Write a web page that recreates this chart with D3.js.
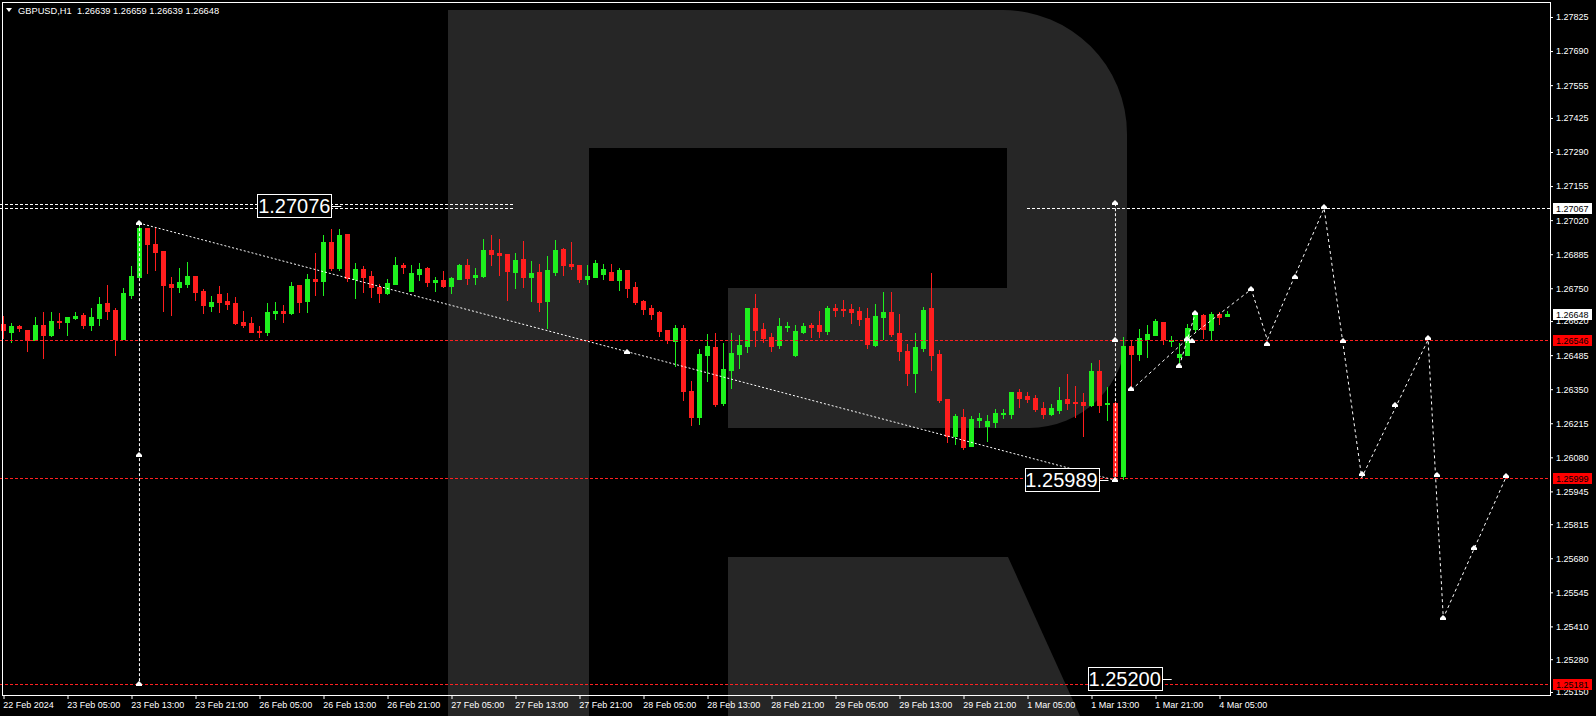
<!DOCTYPE html>
<html><head><meta charset="utf-8">
<script src="https://cdn.jsdelivr.net/npm/d3@7"></script>
<style>html,body{margin:0;padding:0;background:#000;overflow:hidden}text{white-space:pre}</style>
</head><body>
<svg id="c" width="1596" height="716"></svg>
<script>
// ---- data (GBPUSD H1, bars from 22 Feb 2024 21:00) ----
const open  = [1.26609,1.26577,1.26601,1.26585,1.26546,1.26605,1.26565,1.26621,1.26617,1.26633,1.26645,1.26605,1.26633,1.26692,1.26664,1.26550,1.26724,1.26795,1.26989,1.26927,1.26898,1.26767,1.26755,1.26767,1.26799,1.26740,1.26680,1.26728,1.26700,1.26692,1.26617,1.26613,1.26581,1.26577,1.26652,1.26660,1.26652,1.26763,1.26700,1.26787,1.26779,1.26934,1.26831,1.26965,1.26787,1.26827,1.26799,1.26755,1.26732,1.26767,1.26842,1.26739,1.26807,1.26830,1.26775,1.26783,1.26759,1.26787,1.26842,1.26795,1.26799,1.26902,1.26890,1.26886,1.26815,1.26866,1.26795,1.26815,1.26700,1.26815,1.26906,1.26846,1.26842,1.26787,1.26795,1.26807,1.26815,1.26783,1.26822,1.26755,1.26700,1.26672,1.26656,1.26585,1.26541,1.26593,1.26343,1.26240,1.26486,1.26518,1.26296,1.26426,1.26490,1.26521,1.26672,1.26589,1.26557,1.26525,1.26597,1.26486,1.26577,1.26605,1.26605,1.26581,1.26672,1.26668,1.26668,1.26660,1.26632,1.26525,1.26636,1.26656,1.26573,1.26502,1.26415,1.26513,1.26672,1.26490,1.26312,1.26165,1.26240,1.26125,1.26228,1.26205,1.26220,1.26252,1.26252,1.26339,1.26323,1.26315,1.26276,1.26252,1.26268,1.26312,1.26300,1.26300,1.26288,1.26422,1.26292,1.26296,1.26005,1.26521,1.26490,1.26549,1.26565,1.26616,1.26541,1.26478,1.26486,1.26589,1.26644,1.26585,1.26648,1.26639];
const high  = [1.26641,1.26612,1.26605,1.26585,1.26637,1.26656,1.26656,1.26652,1.26637,1.26656,1.26652,1.26672,1.26716,1.26763,1.26672,1.26752,1.26839,1.27008,1.26989,1.26993,1.26898,1.26795,1.26831,1.26854,1.26799,1.26748,1.26720,1.26759,1.26732,1.26716,1.26660,1.26637,1.26601,1.26692,1.26696,1.26684,1.26775,1.26763,1.26807,1.26890,1.26961,1.26985,1.26985,1.26965,1.26851,1.26839,1.26819,1.26767,1.26787,1.26874,1.26849,1.26842,1.26850,1.26834,1.26795,1.26818,1.26795,1.26846,1.26866,1.26830,1.26945,1.26961,1.26945,1.26886,1.26890,1.26937,1.26858,1.26846,1.26878,1.26941,1.26910,1.26933,1.26842,1.26842,1.26862,1.26846,1.26846,1.26830,1.26822,1.26775,1.26704,1.26684,1.26660,1.26585,1.26605,1.26605,1.26383,1.26510,1.26569,1.26573,1.26533,1.26573,1.26565,1.26672,1.26727,1.26613,1.26573,1.26632,1.26617,1.26605,1.26613,1.26613,1.26660,1.26680,1.26688,1.26704,1.26688,1.26676,1.26672,1.26688,1.26735,1.26735,1.26648,1.26529,1.26573,1.26676,1.26811,1.26506,1.26312,1.26252,1.26272,1.26244,1.26256,1.26248,1.26272,1.26272,1.26339,1.26351,1.26339,1.26327,1.26300,1.26292,1.26359,1.26411,1.26363,1.26335,1.26454,1.26466,1.26359,1.26300,1.26557,1.26545,1.26589,1.26604,1.26628,1.26616,1.26561,1.26533,1.26608,1.26660,1.26648,1.26656,1.26656,1.26659];
const low   = [1.26551,1.26539,1.26579,1.26503,1.26546,1.26472,1.26561,1.26593,1.26565,1.26629,1.26593,1.26585,1.26605,1.26629,1.26484,1.26550,1.26712,1.26795,1.26811,1.26823,1.26660,1.26645,1.26736,1.26755,1.26704,1.26652,1.26660,1.26656,1.26668,1.26609,1.26597,1.26577,1.26557,1.26565,1.26629,1.26617,1.26649,1.26656,1.26656,1.26724,1.26724,1.26823,1.26823,1.26779,1.26712,1.26736,1.26716,1.26696,1.26728,1.26767,1.26812,1.26739,1.26783,1.26759,1.26739,1.26755,1.26731,1.26787,1.26767,1.26767,1.26795,1.26842,1.26803,1.26704,1.26751,1.26755,1.26700,1.26660,1.26593,1.26803,1.26803,1.26826,1.26775,1.26767,1.26795,1.26787,1.26783,1.26743,1.26716,1.26688,1.26648,1.26628,1.26561,1.26533,1.26442,1.26308,1.26209,1.26213,1.26383,1.26284,1.26288,1.26355,1.26434,1.26498,1.26521,1.26537,1.26502,1.26514,1.26581,1.26482,1.26573,1.26557,1.26557,1.26569,1.26640,1.26640,1.26613,1.26605,1.26513,1.26521,1.26549,1.26561,1.26466,1.26367,1.26339,1.26502,1.26426,1.26300,1.26141,1.26133,1.26114,1.26125,1.26201,1.26145,1.26201,1.26236,1.26236,1.26280,1.26300,1.26264,1.26236,1.26248,1.26256,1.26272,1.26240,1.26165,1.26284,1.26260,1.26228,1.25989,1.25995,1.26351,1.26466,1.26478,1.26565,1.26529,1.26521,1.26450,1.26486,1.26581,1.26553,1.26549,1.26608,1.26639];
const close = [1.26583,1.26601,1.26593,1.26544,1.26605,1.26565,1.26621,1.26617,1.26637,1.26642,1.26605,1.26637,1.26688,1.26660,1.26550,1.26732,1.26799,1.26990,1.26927,1.26894,1.26763,1.26755,1.26775,1.26799,1.26736,1.26684,1.26696,1.26696,1.26688,1.26612,1.26605,1.26577,1.26577,1.26656,1.26660,1.26652,1.26759,1.26696,1.26787,1.26779,1.26934,1.26831,1.26961,1.26791,1.26827,1.26795,1.26755,1.26732,1.26771,1.26843,1.26834,1.26812,1.26826,1.26775,1.26783,1.26759,1.26791,1.26842,1.26791,1.26803,1.26902,1.26886,1.26882,1.26818,1.26862,1.26795,1.26811,1.26696,1.26822,1.26902,1.26842,1.26838,1.26787,1.26799,1.26850,1.26826,1.26783,1.26822,1.26751,1.26696,1.26668,1.26648,1.26581,1.26545,1.26593,1.26343,1.26240,1.26490,1.26521,1.26292,1.26430,1.26494,1.26525,1.26672,1.26585,1.26553,1.26521,1.26601,1.26601,1.26581,1.26601,1.26597,1.26581,1.26672,1.26664,1.26664,1.26656,1.26628,1.26529,1.26640,1.26656,1.26569,1.26502,1.26415,1.26517,1.26664,1.26486,1.26308,1.26165,1.26244,1.26121,1.26232,1.26236,1.26224,1.26256,1.26256,1.26339,1.26315,1.26312,1.26272,1.26252,1.26276,1.26308,1.26296,1.26296,1.26288,1.26422,1.26288,1.26296,1.26005,1.26521,1.26490,1.26553,1.26569,1.26620,1.26549,1.26545,1.26490,1.26593,1.26644,1.26589,1.26648,1.26636,1.26648];

const timeLabels = ["22 Feb 2024","23 Feb 05:00","23 Feb 13:00","23 Feb 21:00","26 Feb 05:00","26 Feb 13:00","26 Feb 21:00","27 Feb 05:00","27 Feb 13:00","27 Feb 21:00","28 Feb 05:00","28 Feb 13:00","28 Feb 21:00","29 Feb 05:00","29 Feb 13:00","29 Feb 21:00","1 Mar 05:00","1 Mar 13:00","1 Mar 21:00","4 Mar 05:00"];
const timeLabelBars = timeLabels.map((d,k)=>k*8);
const priceTicks = [1.27825,1.27690,1.27555,1.27425,1.27290,1.27155,1.27020,1.26885,1.26750,1.26620,1.26485,1.26350,1.26215,1.26080,1.25945,1.25815,1.25680,1.25545,1.25410,1.25280,1.25150];

const symbolTitle = "GBPUSD,H1  1.26639 1.26659 1.26639 1.26648";
const redLevels = [1.26546, 1.25999, 1.25181];
const whiteLevelLeft = [1.27082, 1.27067];
const whiteLevelRight = 1.27067;

const trendBars  = [17, 139];
const trendPrice = [1.27008, 1.25989];
const vline1Price = [1.27008, 1.25181];
const vline2Price = [1.27087, 1.25989];

const fcBars  = [141, 148, 156, 158, 165.1, 169.8, 178.1, 180, 187.8];
const fcPrice = [1.26347, 1.26549, 1.26746, 1.26546, 1.27067, 1.25999, 1.26546, 1.25443, 1.25999];
const fc2Bars  = [147, 149];
const fc2Price = [1.26442, 1.26651];

const markerBars  = [17, 78, 139, 17, 17, 139, 139, 147, 149, 141, 148, 148.6, 156, 158, 161.5, 165.1, 167.5, 169.8, 174, 178.1, 179.2, 180, 183.8, 187.8];
const markerPrice = [1.27008, 1.26497, 1.25989, 1.26089, 1.25181, 1.27087, 1.26546, 1.26442, 1.26651, 1.26351, 1.26549, 1.26541, 1.26747, 1.26529, 1.26795, 1.27072, 1.26541, 1.26014, 1.26287, 1.26553, 1.26010, 1.25443, 1.25721, 1.26006];

const bigLabels     = ["1.27076", "1.25989", "1.25200"];
const bigLabelPrice = [1.27076, 1.25989, 1.25200];
const bigLabelBar   = [41, 136.9, 144.8];

const boxLabelsWhite = [1.27067, 1.26648];
const boxLabelsRed   = [1.26546, 1.25999, 1.25181];

// ---- drawing ----
const W=1596, H=716, plotR=1550, plotB=695;
const svg = d3.select("#c");
const x = d3.scaleLinear().domain([0,1]).range([3.3, 11.3]);
const y = d3.scaleLinear().domain([1.251381, 1.278924]).range([plotB, 0]);
const GREEN="#1ef01e", RED="#ff1e1e", FONT="'Liberation Sans', Arial, sans-serif";

svg.append("rect").attr("width",W).attr("height",H).attr("fill","#000");

// watermark logo
const logo = svg.append("g").attr("fill","#262626");
logo.append("path").attr("d","M448,10 H1003 A124,124 0 0 1 1127,134 V330 A98,98 0 0 1 1029,428 H728 V288 H1007 V148 H589 V716 H448 Z");
logo.append("path").attr("d","M728,557 H1008 L1080,716 H728 Z");

const plot = svg.append("g");
plot.append("clipPath").attr("id","clip").append("rect").attr("x",0).attr("y",0).attr("width",plotR).attr("height",plotB);
const g = plot.append("g").attr("clip-path","url(#clip)");

// candles
const idx = d3.range(open.length);
const cg = g.append("g").attr("shape-rendering","crispEdges");
cg.selectAll("line.w").data(idx).join("line")
  .attr("x1",i=>Math.round(x(i))+0.5).attr("x2",i=>Math.round(x(i))+0.5)
  .attr("y1",i=>Math.round(y(high[i]))).attr("y2",i=>Math.round(y(low[i]))+1)
  .attr("stroke",i=>close[i]>=open[i]?GREEN:RED).attr("stroke-width",1);
cg.selectAll("rect.b").data(idx).join("rect")
  .attr("x",i=>Math.round(x(i))-2).attr("width",5)
  .attr("y",i=>Math.round(y(Math.max(open[i],close[i]))))
  .attr("height",i=>Math.max(1,Math.round(y(Math.min(open[i],close[i])))-Math.round(y(Math.max(open[i],close[i])))+1))
  .attr("fill",i=>close[i]>=open[i]?GREEN:RED);

// red dashed levels
g.selectAll("line.red").data(redLevels).join("line")
  .attr("x1",0).attr("x2",plotR).attr("y1",d=>Math.round(y(d))+0.5).attr("y2",d=>Math.round(y(d))+0.5)
  .attr("stroke","#ff2020").attr("stroke-dasharray","3,2").attr("shape-rendering","crispEdges");

// white dashed levels
g.selectAll("line.wl").data(whiteLevelLeft).join("line")
  .attr("x1",0).attr("x2",x(63.8)).attr("y1",d=>Math.round(y(d))+0.5).attr("y2",d=>Math.round(y(d))+0.5)
  .attr("stroke","#fff").attr("stroke-dasharray","3,2").attr("shape-rendering","crispEdges");
g.append("line").attr("x1",x(128)).attr("x2",plotR)
  .attr("y1",Math.round(y(whiteLevelRight))+0.5).attr("y2",Math.round(y(whiteLevelRight))+0.5)
  .attr("stroke","#fff").attr("stroke-dasharray","3,2").attr("shape-rendering","crispEdges");

// trend line and verticals
const line = d3.line().x(d=>x(d[0])).y(d=>y(d[1]));
g.append("path").attr("d",line(trendBars.map((b,k)=>[b,trendPrice[k]])))
  .attr("fill","none").attr("stroke","#fff").attr("stroke-dasharray","2,2");
g.append("path").attr("d",line(vline1Price.map(p=>[17.02,p])))
  .attr("fill","none").attr("stroke","#fff").attr("stroke-dasharray","3,2");
g.append("path").attr("d",line(vline2Price.map(p=>[139.02,p])))
  .attr("fill","none").attr("stroke","#fff").attr("stroke-dasharray","3,2");
// forecast
g.append("path").attr("d",line(fcBars.map((b,k)=>[b,fcPrice[k]])))
  .attr("fill","none").attr("stroke","#fff").attr("stroke-dasharray","3,3");
g.append("path").attr("d",line(fc2Bars.map((b,k)=>[b,fc2Price[k]])))
  .attr("fill","none").attr("stroke","#fff").attr("stroke-dasharray","3,3");

// markers
g.selectAll("path.mk").data(markerBars.map((b,k)=>[b,markerPrice[k]])).join("path")
  .attr("transform",d=>`translate(${Math.round(x(d[0]))},${Math.round(y(d[1]))})`)
  .attr("d","M0,-3 L3,0 L3,2 L-3,2 L-3,0 Z").attr("fill","#fff");

// big labels
bigLabels.forEach((t,k)=>{
  const xr = x(bigLabelBar[k]), yc = Math.round(y(bigLabelPrice[k]));
  const bw=74, bh=23;
  g.append("line").attr("x1",xr).attr("x2",xr+10).attr("y1",yc+0.5).attr("y2",yc+0.5).attr("stroke","#fff");
  g.append("rect").attr("x",Math.round(xr-bw)+0.5).attr("y",yc-11.5).attr("width",bw).attr("height",bh)
    .attr("fill","#000").attr("stroke","#fff");
  g.append("text").attr("x",xr-bw/2).attr("y",yc+7).attr("text-anchor","middle")
    .attr("fill","#fff").attr("font-family",FONT).attr("font-size",20).text(t);
});

// frame
svg.append("rect").attr("x",2.5).attr("y",2.5).attr("width",plotR-2).attr("height",plotB-2)
  .attr("fill","none").attr("stroke","#fff").attr("shape-rendering","crispEdges");

// price axis
const ya = svg.append("g").attr("transform",`translate(${plotR},0)`)
  .call(d3.axisRight(y).tickValues(priceTicks).tickFormat(d3.format(".5f")).tickSize(3).tickPadding(3));
ya.select(".domain").remove();
ya.selectAll("line").attr("stroke","#fff");
ya.selectAll("text").attr("fill","#fff").attr("font-family",FONT).attr("font-size",9);

// axis boxes
const boxes = boxLabelsWhite.map(p=>({p,bg:"#fff"})).concat(boxLabelsRed.map(p=>({p,bg:"#ff0000"})));
boxes.forEach(b=>{
  const yc = Math.round(y(b.p));
  svg.append("rect").attr("x",1553).attr("y",yc-5).attr("width",39).attr("height",11).attr("fill",b.bg);
  svg.append("text").attr("x",1556).attr("y",yc+3.5).attr("fill","#000").attr("font-family",FONT).attr("font-size",9)
    .text(d3.format(".5f")(b.p));
});

// time axis
const xa = svg.append("g").attr("transform",`translate(0,${plotB})`)
  .call(d3.axisBottom(x).tickValues(timeLabelBars).tickFormat((d,k)=>timeLabels[k]).tickSize(4).tickPadding(3));
xa.select(".domain").remove();
xa.selectAll("line").attr("stroke","#fff").attr("transform","translate(0.2,0)");
xa.selectAll("text").attr("fill","#fff").attr("font-family",FONT).attr("font-size",9)
  .attr("text-anchor","start").attr("dx",-0.5);

// title
svg.append("path").attr("d","M6,8 L12,8 L9,12 Z").attr("fill","#fff");
svg.append("text").attr("x",18).attr("y",14).attr("fill","#fff").attr("font-family",FONT).attr("font-size",9.3).text(symbolTitle);
</script>
</body></html>
